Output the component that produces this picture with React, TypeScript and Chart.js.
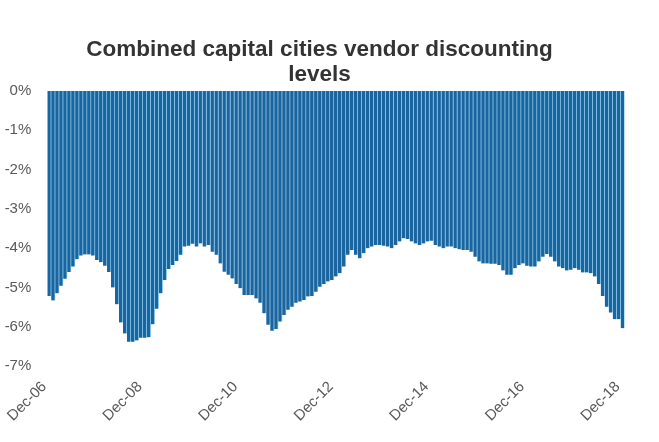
import React, { useEffect, useRef } from 'react';
import { Chart, registerables } from 'chart.js';

Chart.register(...registerables);

// ---- Data ----
const TITLE_LINES = ['Combined capital cities vendor discounting', 'levels'];

const MONTH_NAMES = ['Jan', 'Feb', 'Mar', 'Apr', 'May', 'Jun', 'Jul', 'Aug', 'Sep', 'Oct', 'Nov', 'Dec'];
const START_YEAR = 2006;
const START_MONTH = 11; // December

// Monthly vendor discounting level (%), Dec-06 .. Dec-18
const discount2006to2009 = [
  -5.22, -5.33, -5.15, -4.96, -4.78, -4.61, -4.47, -4.28, -4.19, -4.16,
  -4.16, -4.19, -4.30, -4.36, -4.45, -4.61, -5.00, -5.43, -5.89, -6.17,
  -6.38, -6.38, -6.35, -6.28, -6.28, -6.27, -5.94, -5.54, -5.15, -4.81,
  -4.53, -4.43, -4.33, -4.17, -3.96, -3.94, -3.89, -3.96,
];
const discount2010to2012 = [
  -3.88, -3.96, -3.92, -4.09, -4.17, -4.39, -4.60, -4.68, -4.77, -4.91,
  -5.02, -5.19, -5.19, -5.19, -5.28, -5.39, -5.66, -5.95, -6.10, -6.06,
  -5.87, -5.70, -5.57, -5.49, -5.39, -5.36, -5.32, -5.23, -5.22, -5.11,
  -4.98, -4.91, -4.85, -4.81, -4.72, -4.64, -4.47, -4.17,
];
const discount2013to2015 = [
  -4.05, -4.17, -4.26, -4.13, -4.00, -3.96, -3.92, -3.92, -3.94, -3.96,
  -4.00, -3.92, -3.83, -3.75, -3.77, -3.83, -3.88, -3.92, -3.88, -3.83,
  -3.81, -3.92, -3.96, -4.00, -3.96, -3.96, -4.00, -4.03, -4.05, -4.05,
  -4.09, -4.22, -4.34, -4.39, -4.39, -4.40,
];
const discount2016to2018 = [
  -4.40, -4.43, -4.57, -4.68, -4.68, -4.51, -4.43, -4.39, -4.45, -4.47,
  -4.47, -4.34, -4.22, -4.15, -4.22, -4.34, -4.47, -4.51, -4.57, -4.55,
  -4.51, -4.55, -4.62, -4.62, -4.64, -4.72, -4.91, -5.22, -5.49, -5.64,
  -5.81, -5.81, -6.04,
];
const discountLevels = [
  ...discount2006to2009,
  ...discount2010to2012,
  ...discount2013to2015,
  ...discount2016to2018,
];

const categories = discountLevels.map((_, i) => {
  const m = START_MONTH + i;
  const year = START_YEAR + Math.floor(m / 12);
  return `${MONTH_NAMES[m % 12]}-${String(year % 100).padStart(2, '0')}`;
});

const xTickLabels = ['Dec-06', 'Dec-08', 'Dec-10', 'Dec-12', 'Dec-14', 'Dec-16', 'Dec-18'];
const yMin = -7;
const yMax = 0;

// ---- Styles ----
const FONT = '"Liberation Sans", Arial, Helvetica, sans-serif';
const BAR_COLOR = '#1a659f';
const BAR_EDGE = '#9ed7f5';
const TEXT_GRAY = '#595959';

export default function App() {
  const canvasRef = useRef<HTMLCanvasElement | null>(null);

  useEffect(() => {
    if (!canvasRef.current) return;
    const chart = new Chart(canvasRef.current, {
      type: 'bar',
      data: {
        labels: categories,
        datasets: [
          {
            data: discountLevels,
            backgroundColor: BAR_COLOR,
            borderColor: BAR_EDGE,
            borderWidth: { left: 0, right: 1, top: 0, bottom: 0 },
            borderSkipped: false,
            barPercentage: 1,
            categoryPercentage: 1,
          },
        ],
      },
      options: {
        responsive: false,
        animation: false,
        layout: { padding: { left: 0, right: 20, top: 0, bottom: 0 } },
        plugins: {
          legend: { display: false },
          tooltip: { enabled: false },
          title: {
            display: true,
            text: TITLE_LINES,
            color: '#333333',
            font: { family: FONT, size: 22.5, weight: 'bold', lineHeight: 1.12 },
            padding: { top: 37, bottom: 3.6 },
          },
        },
        scales: {
          x: {
            type: 'category',
            offset: true,
            grid: { display: false, drawTicks: false },
            border: { display: false },
            ticks: {
              autoSkip: false,
              minRotation: 45,
              maxRotation: 45,
              padding: 12,
              labelOffset: -5,
              color: TEXT_GRAY,
              font: { family: FONT, size: 15 },
              callback: (_v: any, index: number) =>
                xTickLabels.includes(categories[index]) ? categories[index] : '',
            },
            afterFit: (s: any) => {
              s.height = 76;
            },
          },
          y: {
            min: yMin,
            max: yMax,
            grid: { display: false, drawTicks: false },
            border: { display: false },
            ticks: {
              stepSize: 1,
              padding: 16,
              color: TEXT_GRAY,
              font: { family: FONT, size: 15 },
              callback: (v: any) => `${v}%`,
            },
            afterFit: (s: any) => {
              s.width = 47.3;
            },
          },
          yRight: {
            position: 'right',
            display: true,
            min: yMin,
            max: yMax,
            grid: { display: false, drawTicks: false },
            border: { display: false },
            ticks: { display: false },
            afterFit: (s: any) => {
              s.width = 14.3;
            },
          },
        },
      },
    });
    return () => chart.destroy();
  }, []);

  return (
    <div style={{ position: 'absolute', left: 0, top: 0, width: 659, height: 442, background: '#ffffff' }}>
      <canvas ref={canvasRef} width={659} height={442} />
    </div>
  );
}
